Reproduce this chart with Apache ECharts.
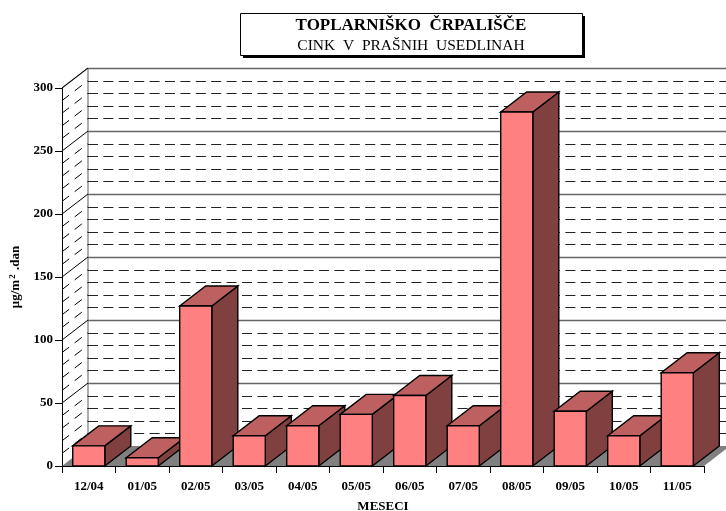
<!DOCTYPE html>
<html><head><meta charset="utf-8">
<style>html,body{margin:0;padding:0;background:#fff}#c{width:726px;height:511px}</style>
<script src="https://cdn.jsdelivr.net/npm/echarts@6/dist/echarts.min.js"></script>
</head><body><div id="c"></div>
<script>
var categories = ['12/04','01/05','02/05','03/05','04/05','05/05','06/05','07/05','08/05','09/05','10/05','11/05'];
var values = [16,6.5,127,24,32,41,56,32,281,43.5,24,74];
var majorLevels = [0,50,100,150,200,250,300];
var minorLevels = [10,20,30,40,60,70,80,90,110,120,130,140,160,170,180,190,210,220,230,240,260,270,280,290];
var DX = 26, DY = 20;
var FONT = '"Liberation Serif","Times New Roman",serif';
var chart = echarts.init(document.getElementById('c'), null, {renderer:'canvas'});

function wallItem(params, api){
  var y = api.coord([0, api.value(0)])[1];
  var rect = params.coordSys;
  var x0 = rect.x, x1 = rect.x + rect.width;
  var major = api.value(1) === 1;
  var isZero = api.value(0) === 0;
  var ch = [];
  if (!isZero) {
    var by = Math.round(y-DY)+0.5;
    ch.push({type:'line', shape:{x1:x0,y1:y,x2:x0+DX,y2:y-DY},
      style:{stroke:'#000', lineWidth:1, lineDash:major?null:[9,7]}, silent:true});
    ch.push({type:'line', shape:{x1:x0+DX,y1:by,x2:x1+DX,y2:by},
      style:{stroke:major?'#666':'#222', lineWidth:major?1.4:1, lineDash:major?null:[10,5.4]}, silent:true});
  }
  return {type:'group', children:ch};
}
function floorItem(params, api){
  var rect = params.coordSys;
  var y = api.coord([0,0])[1];
  var x0 = rect.x, x1 = rect.x+rect.width;
  return {type:'group', children:[
    {type:'polygon', shape:{points:[[x0,y],[x1,y],[x1+DX,y-DY],[x0+DX,y-DY]]}, style:{fill:'#808080'}},
    {type:'line', shape:{x1:x0+DX,y1:y-DY,x2:x0+DX,y2:rect.y-DY}, style:{stroke:'#777',lineWidth:1.2}},
    {type:'line', shape:{x1:x0,y1:rect.y,x2:x0+DX,y2:rect.y-DY}, style:{stroke:'#777',lineWidth:1.2}}
  ]};
}
function barItem(params, api){
  var idx = api.value(0), v = api.value(1);
  var base = api.coord([idx,0]), top = api.coord([idx,v]);
  var w = api.size([1,0])[0]*0.6;
  var l = base[0]-w/2, r = base[0]+w/2, b = base[1], t = top[1];
  var st = function(fill){return {fill:fill, stroke:'#000', lineWidth:1.4, lineJoin:'miter'};};
  return {type:'group', children:[
    {type:'polygon', shape:{points:[[r,b],[r+DX,b-DY],[r+DX,t-DY],[r,t]]}, style:st('#804040')},
    {type:'polygon', shape:{points:[[l,t],[r,t],[r+DX,t-DY],[l+DX,t-DY]]}, style:st('#BF6060')},
    {type:'rect', shape:{x:l,y:t,width:r-l,height:b-t}, style:st('#FF8080')}
  ]};
}
var wallData = majorLevels.map(function(v){return [v,1];}).concat(minorLevels.map(function(v){return [v,0];}));
chart.setOption({
  animation:false,
  backgroundColor:'#fff',
  title:{
    text:'TOPLARNIŠKO  ČRPALIŠČE', subtext:'CINK  V  PRAŠNIH  USEDLINAH',
    left:411, top:13, textAlign:'center', padding:[4,0,0,0], itemGap:4,
    textStyle:{fontFamily:FONT,fontSize:17,fontWeight:'bold',color:'#000'},
    subtextStyle:{fontFamily:FONT,fontSize:15.5,color:'#000'},
    z:10
  },
  grid:{left:62,right:22,top:88,bottom:45,containLabel:false,outerBoundsMode:'none'},
  xAxis:{
    type:'category', data:categories, name:'MESECI', nameLocation:'middle', nameGap:34,
    nameTextStyle:{fontFamily:FONT,fontSize:13,fontWeight:'bold',color:'#000'},
    axisLine:{lineStyle:{color:'#000',width:1}},
    axisTick:{show:true,alignWithLabel:false,length:7,lineStyle:{color:'#000',width:1}},
    axisLabel:{fontFamily:FONT,fontSize:13,fontWeight:'bold',color:'#000',margin:14,interval:0},
    splitLine:{show:false}
  },
  yAxis:{
    type:'value', min:0, max:300, interval:50,
    name:'{b|μg/m}{s|2}{b| .dan}', nameLocation:'middle', nameGap:33, nameRotate:90,
    nameTextStyle:{fontFamily:FONT,fontSize:13,fontWeight:'bold',color:'#000',
      rich:{b:{fontFamily:FONT,fontSize:13,fontWeight:'bold',color:'#000',lineHeight:14,verticalAlign:'bottom'},
            s:{fontFamily:FONT,fontSize:9,fontWeight:'bold',color:'#000',lineHeight:14,verticalAlign:'top',padding:[0,1,0,1]}}},
    axisLine:{show:true,lineStyle:{color:'#000',width:1}},
    axisTick:{show:true,length:7,lineStyle:{color:'#000',width:1}},
    axisLabel:{fontFamily:FONT,fontSize:13,fontWeight:'bold',color:'#000',margin:9},
    splitLine:{show:false}
  },
  graphic:[
    {type:'rect', z:1, shape:{x:243,y:16,width:342,height:42}, style:{fill:'#000'}},
    {type:'rect', z:2, shape:{x:240.5,y:13.5,width:342,height:42}, style:{fill:'#fff',stroke:'#000',lineWidth:1}}
  ],
  series:[
    {type:'custom', z:1, renderItem:floorItem, data:[[0]], silent:true, encode:{x:0}},
    {type:'custom', z:2, renderItem:wallItem, data:wallData, silent:true, encode:{y:0}},
    {type:'custom', z:3, renderItem:barItem, data:values.map(function(v,i){return [i,v];}), silent:true, encode:{x:0,y:1}}
  ]
});
</script></body></html>
